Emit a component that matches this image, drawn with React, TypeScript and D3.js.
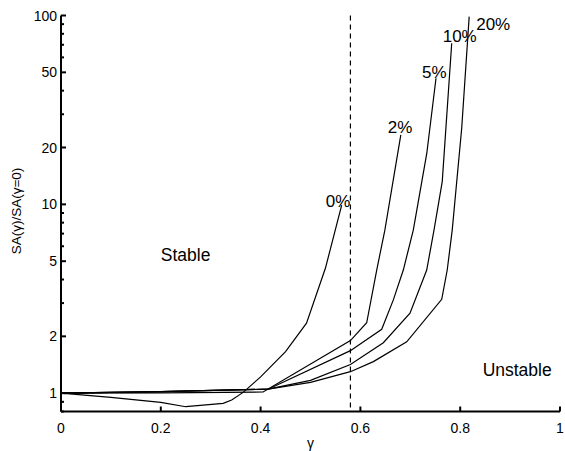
import React from 'react';
import * as d3 from 'd3';

// ---- data ----
const gammaTicks = [0, 0.2, 0.4, 0.6, 0.8, 1];
const ratioTicks = [1, 2, 5, 10, 20, 50, 100];
const seriesLabels = ['0%', '2%', '5%', '10%', '20%'];

const gamma0 = [0, 0.1, 0.2, 0.25, 0.325, 0.342, 0.365, 0.4, 0.45, 0.492, 0.53, 0.5625];
const ratio0 = [1, 0.951, 0.895, 0.848, 0.884, 0.92, 1.01, 1.22, 1.66, 2.35, 4.6, 9.9];

const gamma2 = [0, 0.2, 0.405, 0.58, 0.6126, 0.6327, 0.649, 0.681];
const ratio2 = [1, 1.005, 1.015, 1.9, 2.36, 4.49, 7.3, 23.3];

const gamma5 = [0, 0.2, 0.415, 0.58, 0.6427, 0.666, 0.686, 0.706, 0.733, 0.7515];
const ratio5 = [1, 1.02, 1.05, 1.68, 2.18, 3.12, 4.49, 7.3, 18.6, 46.5];

const gamma10 = [0, 0.2, 0.415, 0.5, 0.58, 0.646, 0.6994, 0.7329, 0.7475, 0.764, 0.783];
const ratio10 = [1, 1.02, 1.05, 1.17, 1.42, 1.85, 2.65, 4.49, 7.3, 13.2, 71.3];

const gamma20 = [0, 0.2, 0.415, 0.5, 0.58, 0.626, 0.6928, 0.763, 0.774, 0.784, 0.803, 0.818];
const ratio20 = [1, 1.02, 1.05, 1.14, 1.3, 1.47, 1.87, 3.14, 4.49, 7.3, 25.3, 98.6];

const criticalGamma = 0.58;
const regionLabels = ['Stable', 'Unstable'];
const regionGamma = [0.2, 0.845];
const regionRatio = [5, 1.23];

const seriesGammas = [gamma0, gamma2, gamma5, gamma10, gamma20];
const seriesRatios = [ratio0, ratio2, ratio5, ratio10, ratio20];

// ---- layout ----
const W = 565;
const H = 451;
const M = { left: 61, right: 5, top: 15.5, bottom: 39.5 };
const FONT = '"Liberation Sans", Arial, Helvetica, sans-serif';
// label offsets relative to curve end (style only)
const labelOffsets: [number, number][] = [
  [-16, 2],
  [-13, -2],
  [-14, 0],
  [-9, -1],
  [7, 13],
];

export default function App() {
  const x = d3.scaleLinear().domain([0, 1]).range([M.left, W - M.right]);
  const y = d3.scaleLog().domain([0.8, 100]).range([H - M.bottom, M.top]);

  const line = d3
    .line<[number, number]>()
    .x((d) => x(d[0]))
    .y((d) => y(d[1]));

  const minorTicks: number[] = [];
  [0.1, 1, 10].forEach((dec) => {
    for (let k = 1; k <= 9; k++) {
      const v = k * dec;
      if (v >= 0.8 && v <= 100 && !ratioTicks.includes(v)) minorTicks.push(v);
    }
  });

  const x0 = x(0);
  const x1 = x(1);
  const yb = y(0.8);
  const yt = y(100);

  return (
    <svg
      width={W}
      height={H}
      style={{ position: 'absolute', left: 0, top: 0, background: '#fff' }}
      fontFamily={FONT}
    >
      <rect x={0} y={0} width={W} height={H} fill="#fff" />
      {/* curves */}
      {seriesGammas.map((gs, i) => {
        const pts = gs.map((g, j) => [g, seriesRatios[i][j]] as [number, number]);
        return (
          <path key={i} d={line(pts) || ''} fill="none" stroke="#000" strokeWidth={1.2} />
        );
      })}
      {/* critical dashed line */}
      <line
        x1={x(criticalGamma)}
        x2={x(criticalGamma)}
        y1={yt}
        y2={yb}
        stroke="#000"
        strokeWidth={1.2}
        strokeDasharray="5,4"
      />
      {/* series labels */}
      {seriesGammas.map((gs, i) => {
        const n = gs.length - 1;
        const ex = x(gs[n]);
        const ey = y(seriesRatios[i][n]);
        return (
          <text key={i} x={ex + labelOffsets[i][0]} y={ey + labelOffsets[i][1]} fontSize={17} fill="#000">
            {seriesLabels[i]}
          </text>
        );
      })}
      {/* region labels */}
      {regionLabels.map((t, i) => (
        <text key={t} x={x(regionGamma[i])} y={y(regionRatio[i])} fontSize={17.5} fill="#000">
          {t}
        </text>
      ))}
      {/* axes */}
      <line x1={x0} x2={x1} y1={yb} y2={yb} stroke="#000" strokeWidth={2} />
      <line x1={x0} x2={x0} y1={yb} y2={yt} stroke="#000" strokeWidth={2} />
      {gammaTicks.map((t) => (
        <g key={t}>
          <line x1={x(t)} x2={x(t)} y1={yb} y2={yb - 5} stroke="#000" strokeWidth={2} />
          <text x={x(t)} y={yb + 21} fontSize={14} textAnchor="middle" fill="#000">
            {String(t)}
          </text>
        </g>
      ))}
      {ratioTicks.map((t) => (
        <g key={t}>
          <line x1={x0} x2={x0 + 5} y1={y(t)} y2={y(t)} stroke="#000" strokeWidth={2} />
          <text x={x0 - 4} y={y(t) + 5} fontSize={14} textAnchor="end" fill="#000">
            {String(t)}
          </text>
        </g>
      ))}
      {minorTicks.map((t) => (
        <line key={t} x1={x0} x2={x0 + 3} y1={y(t)} y2={y(t)} stroke="#000" strokeWidth={2} />
      ))}
      <text x={x(0.5)} y={H - 3} fontSize={14} textAnchor="middle" fill="#000">
        γ
      </text>
      <text
        transform={`translate(21, 211) rotate(-90)`}
        fontSize={13.5}
        textAnchor="middle"
        fill="#000"
      >
        SA(γ)/SA(γ=0)
      </text>
    </svg>
  );
}
